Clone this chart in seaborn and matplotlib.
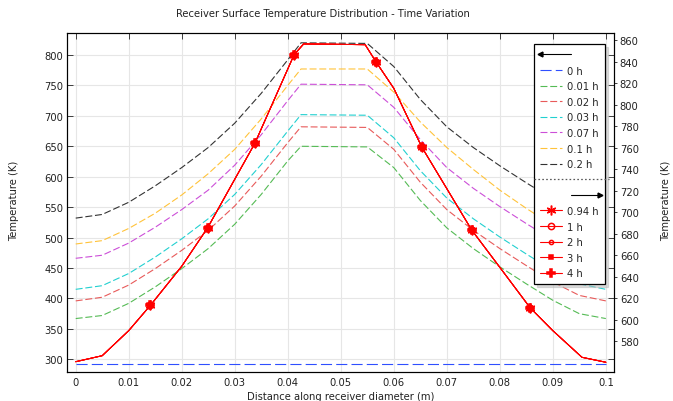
import matplotlib
matplotlib.use('Agg')
import matplotlib.pyplot as plt
import seaborn as sns
from matplotlib.lines import Line2D
from matplotlib.legend_handler import HandlerBase

# ---------------------------------------------------------
# data
# ---------------------------------------------------------
x_profile = [0, 0.005, 0.01, 0.015, 0.02, 0.025, 0.03, 0.035, 0.04, 0.0425,
             0.055, 0.06, 0.065, 0.07, 0.075, 0.08, 0.085, 0.09, 0.095, 0.1]

temp_0h = [293.15, 293.15, 293.15, 293.15, 293.15, 293.15, 293.15, 293.15, 293.15, 293.15,
           293.15, 293.15, 293.15, 293.15, 293.15, 293.15, 293.15, 293.15, 293.15, 293.15]
temp_001h = [367, 372, 392, 419, 449, 482, 522, 571, 626, 650,
             649, 615, 561, 516, 482, 452, 424, 397, 375, 367]
temp_002h = [396, 402, 422, 449, 479, 512, 552, 601, 656, 682,
             681, 645, 591, 546, 512, 482, 454, 427, 405, 396]
temp_003h = [415, 421, 441, 468, 498, 531, 571, 620, 675, 702,
             701, 664, 610, 565, 531, 501, 473, 446, 424, 415]
temp_007h = [466, 471, 491, 517, 546, 578, 619, 669, 725, 752,
             751, 714, 661, 615, 581, 551, 523, 496, 474, 466]
temp_01h = [489.5, 495, 515, 540, 570, 605, 645, 695, 750, 777,
            777, 739, 690, 648, 612, 578, 548, 520, 498, 489.5]
temp_02h = [532, 538, 558, 585, 615, 648, 688, 737, 792, 820,
            819, 781, 727, 682, 648, 618, 590, 563, 541, 532]

transient_labels = ['0 h', '0.01 h', '0.02 h', '0.03 h', '0.07 h', '0.1 h', '0.2 h']
transient_temps = [temp_0h, temp_001h, temp_002h, temp_003h, temp_007h, temp_01h, temp_02h]
transient_colors = ['#2f4fff', '#55bb55', '#e85a5a', '#22d0d0', '#cc4fd8', '#ffc33a', '#333333']

# steady curves (right axis) - all five overlap
x_steady = [0, 0.005, 0.01, 0.0141, 0.02, 0.0249, 0.03, 0.0338, 0.0412, 0.043,
            0.0546, 0.0567, 0.06, 0.0653, 0.07, 0.0747, 0.08, 0.0857, 0.09, 0.0955, 0.1]
temp_steady = [561, 566.6, 589.9, 613.5, 649.8, 685.7, 730.7, 764.2, 846.6, 856.6,
               855.9, 839.5, 815.3, 760.5, 722, 683.5, 648.8, 611.3, 589.9, 565.1, 560.5]
steady_markers_at = [3, 5, 7, 8, 11, 13, 15, 17]

steady_labels = ['0.94 h', '1 h', '2 h', '3 h', '4 h']
steady_markers = [(6, 2, 0), 'o', 'o', 's', 'P']
steady_msize = [7, 4.5, 3, 3.5, 6]
steady_mfc = ['red', 'none', 'none', 'red', 'red']

left_ticks = [300, 350, 400, 450, 500, 550, 600, 650, 700, 750, 800]
right_ticks = [580, 600, 620, 640, 660, 680, 700, 720, 740, 760, 780, 800, 820, 840, 860]
x_ticks = [0, 0.01, 0.02, 0.03, 0.04, 0.05, 0.06, 0.07, 0.08, 0.09, 0.1]
x_ticklabels = ['0', '0.01', '0.02', '0.03', '0.04', '0.05', '0.06', '0.07', '0.08', '0.09', '0.1']


# ---------------------------------------------------------
# legend helpers
# ---------------------------------------------------------
class HandlerArrow(HandlerBase):
    def __init__(self, direction):
        super().__init__()
        self.direction = direction

    def create_artists(self, legend, orig_handle, xdescent, ydescent,
                       width, height, fontsize, trans):
        y = height / 2 - ydescent
        if self.direction == 'left':
            xs, mk, idx = [-xdescent, -xdescent + 1.4 * width], '<', [0]
        else:
            xs, mk, idx = [1.4 * width, 2.7 * width], '>', [1]
        line = Line2D(xs, [y, y], color='black', lw=0.8, marker=mk,
                      markevery=idx, markersize=3.5)
        line.set_transform(trans)
        return [line]


class HandlerSep(HandlerBase):
    def create_artists(self, legend, orig_handle, xdescent, ydescent,
                       width, height, fontsize, trans):
        y = height / 2 - ydescent
        line = Line2D([-0.65 * fontsize, 6.9 * fontsize], [y, y], color='0.35',
                      lw=0.9, linestyle=(0, (1.2, 1.6)))
        line.set_transform(trans)
        return [line]


# ---------------------------------------------------------
# plot
# ---------------------------------------------------------
sns.set_style('white')
plt.rcParams['font.family'] = ['DejaVu Sans']
plt.rcParams['font.size'] = 7.2
plt.rcParams['lines.scale_dashes'] = False

fig = plt.figure(figsize=(6.73, 4.02), dpi=100)
ax = fig.add_axes([0.0991, 0.0726, 0.8137, 0.8416])
ax2 = ax.twinx()

for lab, temps, col in zip(transient_labels, transient_temps, transient_colors):
    dash = (0, (8, 3)) if lab == '0 h' else (0, (5, 2))
    sns.lineplot(x=x_profile, y=temps, ax=ax, color=col, lw=0.8,
                 linestyle=dash, legend=False)

steady_handles = []
for lab, mk, ms, mfc in zip(steady_labels, steady_markers, steady_msize, steady_mfc):
    sns.lineplot(x=x_steady, y=temp_steady, ax=ax2, color='red', lw=0.7,
                 marker=mk, markersize=ms, markerfacecolor=mfc, markeredgecolor='red',
                 markeredgewidth=1.1, markevery=steady_markers_at, legend=False)
    steady_handles.append(Line2D([], [], color='red', lw=0.8, marker=mk, markersize=ms,
                                 markerfacecolor=mfc, markeredgecolor='red',
                                 markeredgewidth=1.1))

ax.set_xlim(-0.0017, 0.1016)
ax.set_ylim(279.5, 835.3)
ax2.set_ylim(551.6, 866.3)
ax.set_xticks(x_ticks)
ax.set_xticklabels(x_ticklabels)
ax.set_yticks(left_ticks)
ax2.set_yticks(right_ticks)

ax.grid(True, color='#e6e6e6', lw=0.8)
ax.set_axisbelow(True)
for a in (ax, ax2):
    for sp in a.spines.values():
        sp.set_color('black')
        sp.set_linewidth(0.8)
ax.tick_params(axis='both', direction='in', length=4, width=0.6, top=True,
               right=True, labelsize=7.2, colors='#222222')
ax.tick_params(axis='x', pad=4)
ax.tick_params(axis='y', pad=2.5)
ax2.tick_params(axis='y', direction='out', length=2.5, width=0.6, pad=1.5,
                labelsize=7.2, colors='#222222')
ax.set_xlabel('')
ax.set_ylabel('')
ax2.set_ylabel('')

fig.text(323 / 673, 1 - 14 / 402, 'Receiver Surface Temperature Distribution - Time Variation',
         ha='center', va='center', fontsize=7.2, color='#222222')
fig.text(341 / 673, 1 - 397 / 402, 'Distance along receiver diameter (m)',
         ha='center', va='center', fontsize=7.2, color='#222222')
fig.text(14 / 673, 0.5, 'Temperature (K)', rotation=90,
         ha='center', va='center', fontsize=7.2, color='#222222')
fig.text(666 / 673, 0.5, 'Temperature (K)', rotation=90,
         ha='center', va='center', fontsize=7.2, color='#222222')

# legend: left-axis block, separator, right-axis block
hdr_left = Line2D([], [])
hdr_right = Line2D([], [])
sep = Line2D([], [])
handles = [hdr_left] + list(ax.lines) + [sep, hdr_right] + steady_handles
labels = [''] + transient_labels + ['', ''] + steady_labels
leg = ax2.legend(handles, labels, loc='upper right', bbox_to_anchor=(0.983, 0.969),
                 borderaxespad=0, fontsize=7.2, handlelength=2.2, handletextpad=0.5,
                 labelspacing=0.56, borderpad=0.6, fancybox=False, framealpha=1,
                 edgecolor='black', shadow={'color': '0.72'},
                 handler_map={hdr_left: HandlerArrow('left'),
                              hdr_right: HandlerArrow('right'),
                              sep: HandlerSep()})
leg.get_frame().set_linewidth(0.9)

fig.savefig('out.png', dpi=100)
